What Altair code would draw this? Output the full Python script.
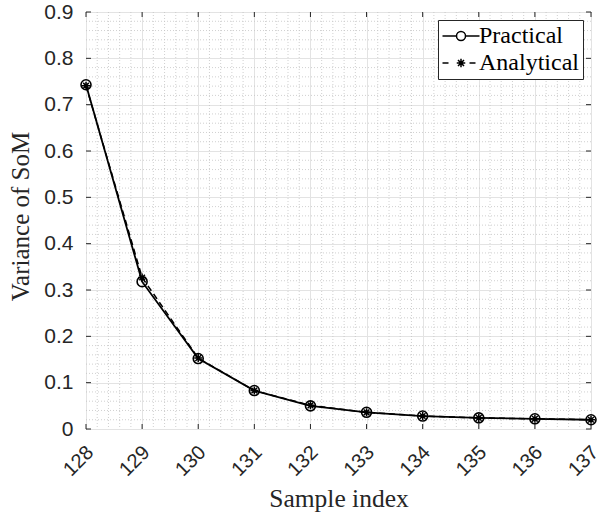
import altair as alt
import pandas as pd

# ---- data ----
samples = [128, 129, 130, 131, 132, 133, 134, 135, 136, 137]
practical = [0.743, 0.318, 0.152, 0.083, 0.050, 0.036, 0.028, 0.024, 0.022, 0.020]
analytical = [0.741, 0.327, 0.153, 0.083, 0.051, 0.036, 0.028, 0.024, 0.022, 0.020]
series_names = ["Practical", "Analytical"]

x_ticks = [128, 129, 130, 131, 132, 133, 134, 135, 136, 137]
y_ticks = [0, 0.1, 0.2, 0.3, 0.4, 0.5, 0.6, 0.7, 0.8, 0.9]
x_minor = [round(128 + 0.2 * i, 1) for i in range(46) if i % 5 != 0]
y_minor = [round(0.02 * i, 2) for i in range(46) if i % 5 != 0]

df = pd.DataFrame({
    "sample": samples * 2,
    "value": practical + analytical,
    "series": ["Practical"] * len(samples) + ["Analytical"] * len(samples),
})
xt = pd.DataFrame({"sample": x_ticks})
yt = pd.DataFrame({"value": y_ticks})
xm = pd.DataFrame({"sample": x_minor})
ym = pd.DataFrame({"value": y_minor})

W, H = 505, 417
INK = "#262626"
SANS = "Liberation Sans"
SERIF = "Liberation Serif"

xs = alt.Scale(domain=[128, 137], nice=False, zero=False)
ys = alt.Scale(domain=[0, 0.9], nice=False, zero=False)

ASTER = "M-1,0L1,0M0,-1L0,1M-0.7,-0.7L0.7,0.7M-0.7,0.7L0.7,-0.7"
LEG_P = "M-3.7,0L-0.9,0M0.9,0L3.7,0M-0.9,0A0.9,0.9,0,1,1,0.9,0A0.9,0.9,0,1,1,-0.9,0"
LEG_A = ("M-3.7,0L-2.5,0M1.7,0L2.9,0"
         "M-0.85,0L0.85,0M0,-0.85L0,0.85M-0.6,-0.6L0.6,0.6M-0.6,0.6L0.6,-0.6")

x_axis = alt.Axis(
    values=x_ticks, title="Sample index", labelAngle=315, labelAlign="right",
    labelBaseline="middle", labelPadding=20, labelOffset=4, labelFlush=False,
    labelOverlap=False, labelFont=SANS, labelFontSize=20, labelColor=INK,
    ticks=False, domain=False, grid=True, gridColor="#e3e3e3", gridWidth=1,
    titleFont=SERIF, titleFontSize=25.5, titleFontWeight="normal", titleColor=INK,
    titlePadding=7,
)
y_axis = alt.Axis(
    values=y_ticks, title="Variance of SoM", format=".1~f", labelPadding=13,
    labelFlush=False, labelOverlap=False, labelFont=SANS, labelFontSize=21,
    labelColor=INK, ticks=False, domain=False, grid=True, gridColor="#e3e3e3",
    gridWidth=1, titleFont=SERIF, titleFontSize=25, titleFontWeight="normal",
    titleColor=INK, titlePadding=10, titleY=204,
)


def X():
    return alt.X("sample:Q", scale=xs, axis=x_axis)


def Y():
    return alt.Y("value:Q", scale=ys, axis=y_axis)


minor_x = alt.Chart(xm).mark_rule(color="#c4c4c4", strokeDash=[1, 2], strokeWidth=0.8).encode(x=X())
minor_y = alt.Chart(ym).mark_rule(color="#c4c4c4", strokeDash=[1, 2], strokeWidth=0.8).encode(y=Y())

tick_b = alt.Chart(xt).mark_rule(color=INK).encode(x=X(), y=alt.value(H), y2=alt.value(H - 5))
tick_t = alt.Chart(xt).mark_rule(color=INK).encode(x=X(), y=alt.value(0), y2=alt.value(5))
tick_l = alt.Chart(yt).mark_rule(color=INK).encode(y=Y(), x=alt.value(0), x2=alt.value(5))
tick_r = alt.Chart(yt).mark_rule(color=INK).encode(y=Y(), x=alt.value(W), x2=alt.value(W - 5))

base = alt.Chart(df)
p_only = alt.datum.series == "Practical"
a_only = alt.datum.series == "Analytical"

line_p = base.transform_filter(p_only).mark_line(color="black", strokeWidth=1.8).encode(x=X(), y=Y())
pts_p = base.transform_filter(p_only).mark_point(
    shape="circle", filled=False, color="black", size=100, strokeWidth=1.6, opacity=1).encode(x=X(), y=Y())
line_a = base.transform_filter(a_only).mark_line(
    color="black", strokeWidth=1.5, strokeDash=[6, 4]).encode(x=X(), y=Y())
pts_a = base.transform_filter(a_only).mark_point(
    shape=ASTER, filled=False, color="black", size=64, strokeWidth=1.5, opacity=1).encode(x=X(), y=Y())

legend_layer = base.mark_point(filled=False, color="black", opacity=0).encode(
    x=X(), y=Y(),
    shape=alt.Shape("series:N", scale=alt.Scale(domain=series_names, range=[LEG_P, LEG_A]),
                    legend=alt.Legend(
                        title=None, orient="top-right", offset=8, padding=4,
                        strokeColor=INK, fillColor="white", cornerRadius=0,
                        symbolSize=100, symbolStrokeWidth=1.5, symbolStrokeColor="black",
                        symbolFillColor="transparent", symbolOpacity=1,
                        symbolOffset=7, labelOffset=6, rowPadding=3,
                        labelFont=SERIF, labelFontSize=24, labelColor="black",
                        labelLimit=300)),
)

chart = alt.layer(
    minor_x, minor_y, tick_b, tick_t, tick_l, tick_r,
    line_p, pts_p, line_a, pts_a, legend_layer,
).properties(
    width=W, height=H,
    padding={"left": 86, "top": 12, "right": 7, "bottom": 86},
    autosize=alt.AutoSizeParams(type="none"),
    background="white",
).configure_view(stroke=INK, strokeWidth=1)

chart.save("out.html", embed_options={"renderer": "svg", "actions": False})
